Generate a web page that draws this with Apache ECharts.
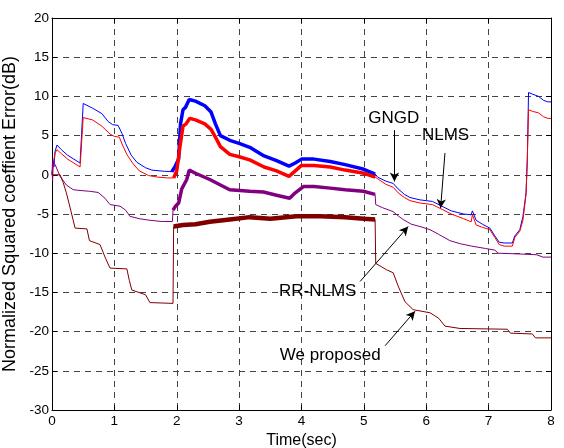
<!DOCTYPE html>
<html>
<head>
<meta charset="utf-8">
<script src="https://cdn.jsdelivr.net/npm/echarts@6/dist/echarts.min.js"></script>
<style>html,body{margin:0;padding:0;background:#fff}#c{width:564px;height:448px}</style>
</head>
<body>
<div id="c"></div>
<script>
// ---- data (time in sec, value in dB) ----
const xTicks = [0,1,2,3,4,5,6,7,8];
const yTicks = [-30,-25,-20,-15,-10,-5,0,5,10,15,20];

const gngd = [[0,0],[0.01,2.0],[0.03,1.0],[0.05,3.0],[0.08,3.8],[0.15,3.2],[0.25,2.5],[0.35,2.0],[0.45,1.5],[0.48,1.6],[0.5,9.1],[0.53,9.0],[0.65,8.5],[0.8,7.8],[0.9,6.8],[0.97,6.4],[1.06,6.3],[1.12,5.3],[1.18,4.0],[1.27,2.5],[1.36,1.6],[1.5,0.9],[1.6,0.6],[1.8,0.45],[1.92,0.4],[1.97,1.0],[2.03,2.0],[2.06,6.5],[2.1,8.3],[2.14,8.6],[2.2,9.6],[2.3,9.4],[2.45,8.8],[2.55,8.0],[2.62,6.5],[2.7,5.0],[2.85,4.4],[3.0,4.0],[3.17,3.5],[3.4,2.4],[3.6,1.8],[3.8,1.1],[3.9,1.5],[4.0,2.0],[4.2,2.0],[4.46,1.7],[4.7,1.3],[5.0,0.7],[5.18,0.1],[5.22,-0.3],[5.35,-0.8],[5.47,-1.1],[5.55,-1.8],[5.65,-2.5],[5.74,-2.9],[5.9,-3.2],[6.1,-3.4],[6.25,-4.0],[6.4,-4.6],[6.6,-5.0],[6.72,-5.1],[6.74,-4.6],[6.76,-4.8],[6.8,-5.8],[6.9,-6.3],[7.02,-6.8],[7.1,-7.8],[7.17,-8.6],[7.25,-8.7],[7.38,-8.7],[7.42,-7.8],[7.5,-7.0],[7.55,-5.3],[7.6,-2.3],[7.62,1.9],[7.64,10.5],[7.7,10.3],[7.8,10.0],[7.88,9.5],[7.95,9.3],[8,9.3]];

const nlms = [[0,0],[0.02,1.5],[0.05,2.8],[0.08,3.2],[0.15,2.7],[0.25,2.0],[0.35,1.5],[0.45,1.0],[0.48,1.1],[0.5,7.3],[0.53,7.5],[0.65,7.0],[0.8,6.2],[0.93,5.2],[1.0,4.9],[1.08,4.8],[1.13,3.8],[1.2,2.6],[1.3,1.4],[1.4,0.5],[1.55,-0.1],[1.7,-0.3],[1.85,-0.4],[1.95,-0.4],[2.0,0.5],[2.05,3.5],[2.1,6.2],[2.15,6.5],[2.21,7.2],[2.3,7.0],[2.45,6.5],[2.55,5.8],[2.62,4.8],[2.7,3.6],[2.85,2.6],[3.0,2.3],[3.17,1.9],[3.4,1.0],[3.6,0.5],[3.8,-0.2],[3.9,0.5],[4.0,1.2],[4.2,1.2],[4.46,1.0],[4.7,0.6],[5.0,0.2],[5.18,-0.3],[5.22,-0.5],[5.35,-1.2],[5.47,-1.6],[5.55,-2.3],[5.65,-2.9],[5.74,-3.3],[5.9,-3.6],[6.1,-3.8],[6.25,-4.4],[6.4,-5.0],[6.6,-5.6],[6.72,-6.0],[6.74,-5.1],[6.76,-5.5],[6.8,-6.4],[6.9,-6.7],[7.02,-7.0],[7.1,-8.0],[7.17,-8.9],[7.25,-9.1],[7.38,-9.1],[7.42,-8.0],[7.5,-7.2],[7.55,-5.8],[7.6,-2.5],[7.62,2.0],[7.64,8.3],[7.7,8.1],[7.8,7.9],[7.88,7.4],[7.95,7.2],[8,7.2]];

const rrnlms = [[0,0.5],[0.01,-0.8],[0.02,1.7],[0.05,1.3],[0.13,-0.2],[0.23,-1.3],[0.34,-1.9],[0.45,-2.0],[0.6,-2.1],[0.74,-2.25],[0.85,-3.0],[0.93,-3.8],[1.09,-4.0],[1.18,-4.5],[1.25,-5.3],[1.4,-5.6],[1.57,-5.8],[1.75,-5.95],[1.93,-5.96],[1.94,-4.5],[1.98,-4.0],[2.03,-3.6],[2.08,-1.8],[2.12,-1.2],[2.16,-0.6],[2.2,0.6],[2.3,0.2],[2.53,-0.6],[2.7,-1.3],[2.85,-1.9],[3.17,-2.1],[3.39,-2.2],[3.6,-2.6],[3.81,-3.0],[3.9,-2.3],[4.03,-1.5],[4.2,-1.5],[4.46,-1.7],[4.7,-1.9],[4.99,-2.1],[5.18,-2.5],[5.19,-3.8],[5.3,-4.2],[5.47,-4.7],[5.56,-5.3],[5.63,-5.7],[5.76,-6.3],[5.9,-6.6],[6.06,-7.0],[6.2,-7.6],[6.38,-8.4],[6.55,-8.8],[6.73,-9.1],[6.95,-9.4],[7.1,-9.6],[7.15,-10.0],[7.5,-10.1],[7.77,-10.2],[7.87,-10.5],[8,-10.5]];

const proposed = [[0,0],[0.13,0],[0.18,-1.0],[0.23,-2.3],[0.3,-4.5],[0.37,-6.8],[0.56,-6.9],[0.6,-8.4],[0.77,-8.9],[0.85,-10.5],[0.93,-11.9],[1.2,-12.0],[1.24,-13.5],[1.28,-14.7],[1.5,-15.3],[1.57,-16.3],[1.94,-16.4],[1.95,-6.6],[2.1,-6.4],[2.3,-6.3],[2.53,-6.0],[2.85,-5.7],[3.17,-5.4],[3.5,-5.6],[3.92,-5.3],[4.3,-5.3],[4.7,-5.4],[5.0,-5.6],[5.18,-5.7],[5.19,-11.3],[5.22,-11.4],[5.36,-12.1],[5.47,-12.5],[5.55,-14.2],[5.66,-16.2],[5.79,-17.2],[6.06,-17.6],[6.2,-18.3],[6.3,-19.3],[6.54,-19.6],[7.3,-19.7],[7.35,-20.2],[7.7,-20.3],[7.75,-20.8],[8,-20.8]];

// noisy (thick) time spans of each curve
const gngdNoisy = [1.92, 5.18];
const nlmsNoisy = [1.95, 5.18];
const rrnlmsNoisy = [1.94, 5.18];
const proposedNoisy = [1.95, 5.18];

// annotations
const annTexts = ['GNGD','NLMS','RR-NLMS','We proposed'];
const annTextPos = [[5.48,7.2],[6.31,5.0],[4.26,-14.9],[4.46,-23.0]];
const annArrowFrom = [[5.49,5.7],[6.30,2.77],[4.94,-13.6],[5.34,-21.8]];
const annArrowTo = [[5.49,-0.85],[6.23,-4.25],[5.71,-6.6],[5.82,-17.4]];

// ---- chart ----
const FONT = '"Liberation Sans", Arial, sans-serif';
function within(arr, span){ return arr.filter(p => p[0] >= span[0] && p[0] <= span[1]); }

const curves = [
  {name:'GNGD', data:gngd, noisy:gngdNoisy, color:'#0000ff', w:3.5},
  {name:'NLMS', data:nlms, noisy:nlmsNoisy, color:'#ff0000', w:3.5},
  {name:'RR-NLMS', data:rrnlms, noisy:rrnlmsNoisy, color:'#800080', w:3.5},
  {name:'We proposed', data:proposed, noisy:proposedNoisy, color:'#800000', w:4.5}
];

const series = [];
curves.forEach(c => {
  series.push({type:'line', name:c.name, data:c.data, showSymbol:false, silent:true,
    lineStyle:{color:c.color, width:1}, itemStyle:{color:c.color}, animation:false, z:2});
  series.push({type:'line', name:c.name+' noisy', data:within(c.data, c.noisy), showSymbol:false, silent:true,
    lineStyle:{color:c.color, width:c.w}, itemStyle:{color:c.color}, animation:false, z:3});
});

series.push({type:'line', data:[], silent:true, animation:false,
  markLine:{silent:true, animation:false, symbol:['none','arrow'], symbolSize:[7,9],
    lineStyle:{color:'#000', width:1, type:'solid', opacity:1}, label:{show:false},
    emphasis:{disabled:true},
    data: annArrowFrom.map((f,i)=>[{coord:f},{coord:annArrowTo[i]}])}, z:5});

series.push({type:'scatter', silent:true, animation:false, symbolSize:0,
  itemStyle:{opacity:1},
  data: annTexts.map((t,i)=>[annTextPos[i][0], annTextPos[i][1], t]),
  label:{show:true, position:'inside', formatter:p=>p.value[2], color:'#000', opacity:1,
    textBorderWidth:0, fontFamily:FONT, fontSize:17}, z:6});

const dash = {type:[6,5], color:'#444', width:1};
const axisLineStyle = {onZero:false, lineStyle:{color:'#000', width:1}};

const option = {
  backgroundColor:'#fff',
  animation:false,
  grid:{left:52, right:13, top:18, bottom:38, containLabel:false, outerBoundsMode:'none'},
  xAxis:[
    {type:'value', min:0, max:8, interval:1, position:'bottom',
     axisLine:axisLineStyle, axisTick:{inside:true, length:5, lineStyle:{color:'#000'}},
     axisLabel:{color:'#000', fontFamily:FONT, fontSize:13.5, margin:4},
     splitLine:{show:true, lineStyle:dash},
     name:'Time(sec)', nameLocation:'middle', nameGap:17,
     nameTextStyle:{color:'#000', fontFamily:FONT, fontSize:16}},
    {type:'value', min:0, max:8, interval:1, position:'top',
     axisLine:axisLineStyle, axisTick:{inside:true, length:5, lineStyle:{color:'#000'}},
     axisLabel:{show:false}, splitLine:{show:false}}
  ],
  yAxis:[
    {type:'value', min:-30, max:20, interval:5, position:'left',
     axisLine:axisLineStyle, axisTick:{inside:true, length:5, lineStyle:{color:'#000'}},
     axisLabel:{color:'#000', fontFamily:FONT, fontSize:13.5, margin:3,
       formatter: v => yTicks.includes(v) ? String(v) : ''},
     splitLine:{show:true, lineStyle:dash},
     name:'Normalized Squared coeffient Error(dB)', nameLocation:'middle', nameGap:24,
     nameTextStyle:{color:'#000', fontFamily:FONT, fontSize:18}},
    {type:'value', min:-30, max:20, interval:5, position:'right',
     axisLine:axisLineStyle, axisTick:{inside:true, length:5, lineStyle:{color:'#000'}},
     axisLabel:{show:false}, splitLine:{show:false}}
  ],
  series: series
};

const chart = echarts.init(document.getElementById('c'), null, {renderer:'canvas'});
chart.setOption(option);
</script>
</body>
</html>
